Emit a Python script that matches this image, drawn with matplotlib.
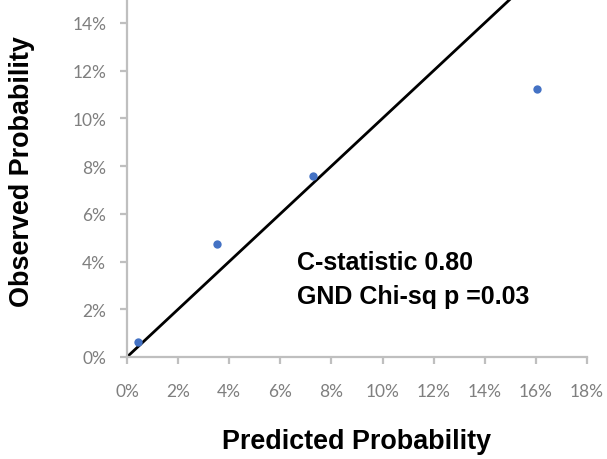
import matplotlib
matplotlib.use("Agg")
import matplotlib.pyplot as plt
from matplotlib.ticker import FuncFormatter

# calibration data (percent)
predicted = [0.43, 3.52, 7.27, 16.05]
observed = [0.63, 4.74, 7.59, 11.24]
ideal = [0, 15]
x_ticks = [0, 2, 4, 6, 8, 10, 12, 14, 16, 18]
y_ticks = [0, 2, 4, 6, 8, 10, 12, 14]

fig = plt.figure(figsize=(6.07, 4.6), dpi=100)
ax = fig.add_axes([127/607, 1 - 358/460, (587-127)/607, 358/460])

ax.plot(ideal, ideal, color="black", lw=2, solid_capstyle="butt", clip_on=True)
ax.plot(predicted, observed, "o", color="#4472C4", ms=6, mec="none")

ax.set_xlim(0, 18)
ax.set_ylim(0, 15)
ax.set_xticks(x_ticks)
ax.set_yticks(y_ticks)
pct = FuncFormatter(lambda v, p: "%d%%" % v)
ax.xaxis.set_major_formatter(pct)
ax.yaxis.set_major_formatter(pct)

for s in ["top", "right"]:
    ax.spines[s].set_visible(False)
for s in ["left", "bottom"]:
    ax.spines[s].set_color("#bfbfbf")
    ax.spines[s].set_linewidth(1.6)
ax.tick_params(axis="both", direction="out", length=5, width=1.6, color="#bfbfbf",
               labelcolor="#7f7f7f", labelsize=12.5)
ax.tick_params(axis="x", pad=14)
ax.tick_params(axis="y", pad=10)
for lab in ax.get_xticklabels() + ax.get_yticklabels():
    lab.set_family("Lato")

bold = dict(fontsize=18, fontweight="bold", family="Liberation Sans")
ax.text(6.64, 3.98, "C-statistic 0.80", va="center", ha="left", **bold)
ax.text(6.64, 2.56, "GND Chi-sq p =0.03", va="center", ha="left", **bold)

label = dict(bold, fontsize=19.4)
fig.text(357/607, 1 - 442/460, "Predicted Probability", ha="center", va="center", **label)
fig.text(22/607, 1 - 172/460, "Observed Probability", ha="center", va="center",
         rotation=90, **label)

fig.savefig("out.png", dpi=100)
